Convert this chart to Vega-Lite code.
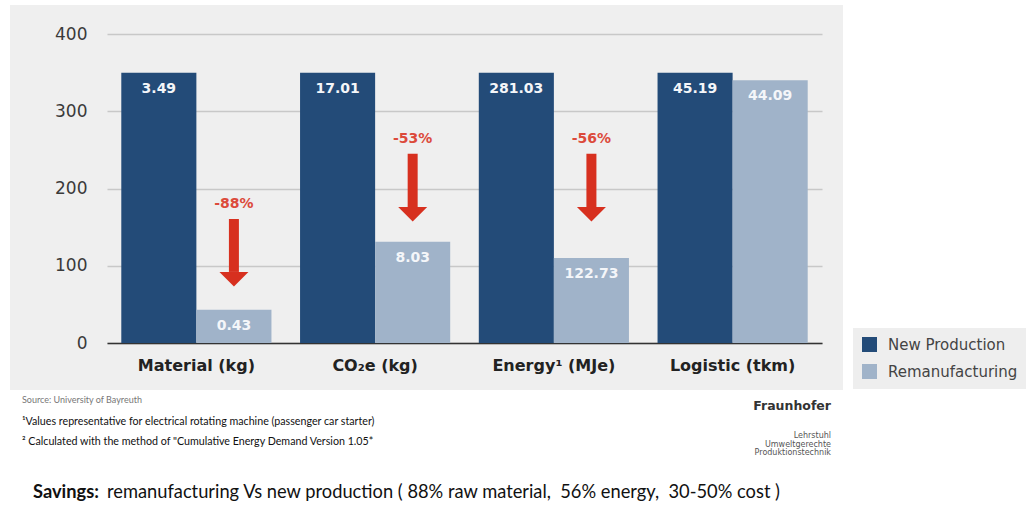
{
  "$schema": "https://vega.github.io/schema/vega-lite/v6.json",
  "padding": {"left": 10, "top": 5, "right": 0, "bottom": 0},
  "background": "white",
  "config": {
    "view": {"stroke": null},
    "font": "DejaVu Sans",
    "title": {"offset": 0}
  },
  "datasets": {
    "bars": [
      {"category": "Material (kg)", "series": "New Production", "index": 350, "value": 3.49},
      {"category": "Material (kg)", "series": "Remanufacturing", "index": 43, "value": 0.43},
      {"category": "CO₂e (kg)", "series": "New Production", "index": 350, "value": 17.01},
      {"category": "CO₂e (kg)", "series": "Remanufacturing", "index": 131, "value": 8.03},
      {"category": "Energy¹ (MJe)", "series": "New Production", "index": 350, "value": 281.03},
      {"category": "Energy¹ (MJe)", "series": "Remanufacturing", "index": 110, "value": 122.73},
      {"category": "Logistic (tkm)", "series": "New Production", "index": 350, "value": 45.19},
      {"category": "Logistic (tkm)", "series": "Remanufacturing", "index": 340, "value": 44.09}
    ],
    "reductions": [
      {"category": "Material (kg)", "change": "-88%", "from": 160.5, "to": 92},
      {"category": "CO₂e (kg)", "change": "-53%", "from": 245, "to": 176},
      {"category": "Energy¹ (MJe)", "change": "-56%", "from": 245, "to": 176}
    ]
  },
  "vconcat": [
    {
      "width": 833,
      "height": 385,
      "view": {"fill": "#efefef", "stroke": null},
      "encoding": {
        "x": {
          "field": "category",
          "type": "nominal",
          "sort": ["Material (kg)", "CO₂e (kg)", "Energy¹ (MJe)", "Logistic (tkm)"],
          "scale": {"range": [97, 812], "paddingInner": 0.16, "paddingOuter": 0.08},
          "title": null,
          "axis": {
            "orient": "bottom",
            "offset": -47,
            "labelAngle": 0,
            "labelFontWeight": "bold",
            "labelFontSize": 16,
            "labelColor": "#222222",
            "labelPadding": 14,
            "ticks": false,
            "domainColor": "#333333",
            "domainWidth": 1.5
          }
        }
      },
      "layer": [
        {
          "data": {"name": "bars"},
          "mark": {"type": "bar"},
          "encoding": {
            "xOffset": {"field": "series", "type": "nominal", "sort": ["New Production", "Remanufacturing"], "scale": {"paddingInner": 0, "paddingOuter": 0}},
            "y": {
              "field": "index",
              "type": "quantitative",
              "title": null,
              "scale": {"domain": [0, 400], "range": [338, 29], "nice": false},
              "axis": {
                "orient": "left",
                "offset": -97,
                "values": [0, 100, 200, 300, 400],
                "domain": false,
                "ticks": false,
                "labelPadding": 20,
                "labelFontSize": 17,
                "labelColor": "#3a3a3a",
                "gridColor": "#c8c8c8",
                "gridWidth": 1.5
              }
            },
            "color": {
              "field": "series",
              "type": "nominal",
              "scale": {"domain": ["New Production", "Remanufacturing"], "range": ["#234b78", "#a0b3c9"]},
              "legend": {
                "orient": "none",
                "legendX": 843,
                "legendY": 323,
                "title": null,
                "fillColor": "#eeeeee",
                "padding": 9,
                "symbolType": "square",
                "symbolSize": 225,
                "symbolStrokeWidth": 0,
                "symbolOpacity": 1,
                "labelFont": "DejaVu Sans",
                "labelFontSize": 15,
                "labelColor": "#444444",
                "labelOffset": 11,
                "rowPadding": 11
              }
            }
          }
        },
        {
          "data": {"name": "bars"},
          "mark": {"type": "text", "dy": 16, "baseline": "middle", "fontWeight": "bold", "fontSize": 14},
          "encoding": {
            "xOffset": {"field": "series", "type": "nominal", "sort": ["New Production", "Remanufacturing"]},
            "y": {"field": "index", "type": "quantitative", "title": null},
            "text": {"field": "value", "type": "quantitative", "format": ".2f"},
            "color": {"value": "#f4f6f9"}
          }
        },
        {
          "data": {"name": "reductions"},
          "mark": {"type": "rule", "strokeWidth": 10, "color": "#d7301f"},
          "encoding": {
            "xOffset": {"datum": "Remanufacturing", "type": "nominal"},
            "y": {"field": "from", "type": "quantitative", "title": null},
            "y2": {"field": "to"}
          }
        },
        {
          "data": {"name": "reductions"},
          "mark": {"type": "point", "shape": "M-1,0L1,0L0,1Z", "size": 841, "filled": true, "opacity": 1, "color": "#d7301f", "strokeWidth": 0},
          "encoding": {
            "xOffset": {"datum": "Remanufacturing", "type": "nominal"},
            "y": {"field": "to", "type": "quantitative", "title": null}
          }
        },
        {
          "data": {"name": "reductions"},
          "mark": {"type": "text", "dy": -15, "baseline": "middle", "fontWeight": "bold", "fontSize": 14, "letterSpacing": 1, "color": "#dc4a3b"},
          "encoding": {
            "xOffset": {"datum": "Remanufacturing", "type": "nominal"},
            "y": {"field": "from", "type": "quantitative", "title": null},
            "text": {"field": "change"}
          }
        }
      ]
    },
    {
      "hconcat": [
        {
          "width": 690,
          "height": 25,
          "data": {"values": []},
          "mark": "text",
          "title": {
            "text": "Source: University of Bayreuth",
            "subtitle": [
              "¹Values representative for electrical rotating machine (passenger car starter)",
              "² Calculated with the method of \"Cumulative Energy Demand Version 1.05*"
            ],
            "anchor": "start",
            "orient": "top",
            "dx": 12,
            "font": "Lato",
            "fontSize": 9,
            "fontWeight": "normal",
            "color": "#777777",
            "subtitleFont": "Lato",
            "subtitleFontSize": 10.7,
            "subtitleColor": "#111111",
            "subtitleLineHeight": 20,
            "subtitlePadding": 12
          }
        },
        {
          "width": 143,
          "height": 25,
          "data": {"values": []},
          "mark": "text",
          "title": {
            "text": "Fraunhofer",
            "subtitle": ["Lehrstuhl", "Umweltgerechte", "Produktionstechnik"],
            "anchor": "end",
            "orient": "top",
            "dx": -12,
            "dy": 10,
            "font": "DejaVu Sans",
            "fontSize": 12.5,
            "fontWeight": "bold",
            "color": "#333333",
            "subtitleFont": "DejaVu Sans",
            "subtitleFontSize": 8,
            "subtitleColor": "#555555",
            "subtitleLineHeight": 8.5,
            "subtitlePadding": 20
          }
        }
      ],
      "spacing": 0
    },
    {
      "hconcat": [
        {
          "width": 97,
          "height": 1,
          "data": {"values": []},
          "mark": "text",
          "title": {
            "text": "Savings:",
            "anchor": "start",
            "orient": "top",
            "dx": 23,
            "font": "Lato",
            "fontSize": 18.3,
            "fontWeight": "bold",
            "color": "#111111"
          }
        },
        {
          "width": 736,
          "height": 1,
          "data": {"values": []},
          "mark": "text",
          "title": {
            "text": "remanufacturing Vs new production ( 88% raw material, \u00a056% energy, \u00a030-50% cost )",
            "anchor": "start",
            "orient": "top",
            "font": "Lato",
            "fontSize": 18.3,
            "fontWeight": "normal",
            "color": "#111111"
          }
        }
      ],
      "spacing": 0
    }
  ],
  "spacing": 6
}
